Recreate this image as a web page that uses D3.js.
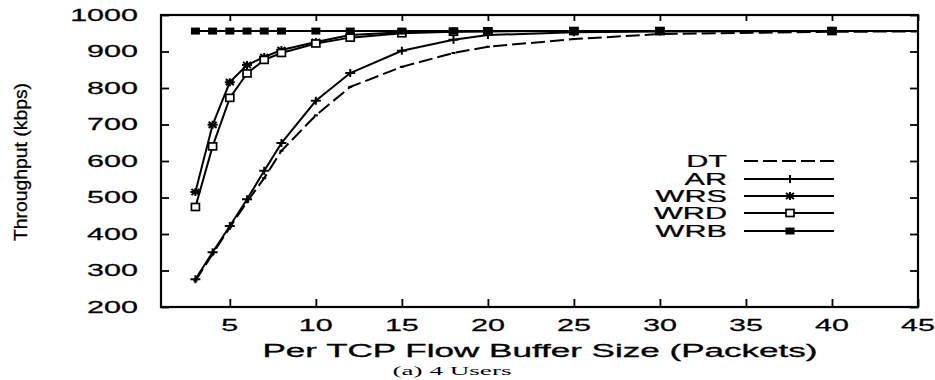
<!DOCTYPE html>
<html><head><meta charset="utf-8">
<script src="https://cdn.jsdelivr.net/npm/d3@7"></script>
<style>body{margin:0;background:#fff}svg{display:block}</style>
</head><body><svg id="c" width="935" height="380"></svg>
<script>
const bufferSizes = [3,4,5,6,7,8,10,12,15,18,20,25,30,40,50];
const seriesNames = ["DT","AR","WRS","WRD","WRB"];
const dtValues  = [272,345,418,488,553,628,725,803,858,896,913,934,948,954,956];
const arValues  = [276,350,422,495,573,649,765,841,902,932,945,953,955,956,956];
const wrsValues = [515,699,816,863,885,904,926,945,953,955,956,956,956,956,956];
const wrdValues = [474,640,773,840,877,896,922,938,950,954,955,956,956,956,956];
const wrbValues = [956,956,956,956,956,956,956,956,956,956,956,956,956,956,956];
const xTicks = [5,10,15,20,25,30,35,40,45];
const yTicks = [200,300,400,500,600,700,800,900,1000];

const series = [
  {name:"DT", values:dtValues, dash:"14,5", marker:"dot"},
  {name:"AR", values:arValues, dash:null, marker:"plus"},
  {name:"WRS", values:wrsValues, dash:null, marker:"star"},
  {name:"WRD", values:wrdValues, dash:null, marker:"open"},
  {name:"WRB", values:wrbValues, dash:null, marker:"filled"}
];

const svg = d3.select("#c");
const L=161, R=918, T=15, B=307;
const x = d3.scaleLinear().domain([1,45]).range([L,R]);
const y = d3.scaleLinear().domain([200,1000]).range([B,T]);
const SX = 1.85;
const font = "'Liberation Sans', Arial, Helvetica, sans-serif";

svg.append("clipPath").attr("id","clip").append("rect")
  .attr("x",L).attr("y",T).attr("width",R-L).attr("height",B-T);

const tl = 8;
const gB = svg.append("g").attr("transform",`translate(0,${B})`)
  .call(d3.axisBottom(x).tickValues(xTicks).tickSize(-tl).tickFormat(""));
const gT = svg.append("g").attr("transform",`translate(0,${T})`)
  .call(d3.axisTop(x).tickValues(xTicks).tickSize(-6).tickFormat(""));
const gL = svg.append("g").attr("transform",`translate(${L},0)`)
  .call(d3.axisLeft(y).tickValues(yTicks).tickSize(-tl).tickFormat(""));
const gR = svg.append("g").attr("transform",`translate(${R},0)`)
  .call(d3.axisRight(y).tickValues(yTicks).tickSize(-tl).tickFormat(""));
[gB,gT,gL,gR].forEach(g=>{
  g.select(".domain").remove();
  g.selectAll(".tick line").attr("stroke","#000").attr("stroke-width",1.8);
});
svg.append("rect").attr("x",L).attr("y",T).attr("width",R-L).attr("height",B-T)
  .attr("fill","none").attr("stroke","#000").attr("stroke-width",2.2);

function stext(g, tx, ty, str, opts){
  return g.append("text")
    .attr("transform",`translate(${tx},${ty}) scale(${opts.sx||SX},1)`)
    .attr("text-anchor",opts.anchor||"middle")
    .attr("dominant-baseline",opts.base||"central")
    .attr("font-family",opts.family||font)
    .attr("font-size",opts.size||16.5)
    .attr("fill","#000").attr("stroke","#000").attr("stroke-width",0.25)
    .text(str);
}

const labels = svg.append("g");
yTicks.forEach(v=>stext(labels, 138, y(v), v, {anchor:"end"}));
xTicks.forEach(v=>stext(labels, x(v), 325, v, {}));

labels.append("text").attr("x",540).attr("y",357)
  .attr("text-anchor","middle").attr("font-family",font).attr("font-size",17.5)
  .attr("fill","#000").attr("stroke","#000").attr("stroke-width",0.3)
  .attr("textLength",555).attr("lengthAdjust","spacingAndGlyphs")
  .text("Per TCP Flow Buffer Size (Packets)");
labels.append("text").attr("x",452).attr("y",375)
  .attr("text-anchor","middle").attr("font-family","'Liberation Serif', 'Times New Roman', serif").attr("font-size",13)
  .attr("textLength",119).attr("lengthAdjust","spacingAndGlyphs")
  .text("(a) 4 Users");
labels.append("text").attr("transform","translate(27,162) rotate(-90)")
  .attr("text-anchor","middle").attr("font-family",font).attr("font-size",19)
  .attr("fill","#000").attr("stroke","#000").attr("stroke-width",0.3)
  .attr("textLength",158).attr("lengthAdjust","spacingAndGlyphs")
  .text("Throughput (kbps)");

function drawMarker(g, type, cx, cy){
  if(type==="dot"){
    g.append("rect").attr("x",cx-2).attr("y",cy-1).attr("width",4).attr("height",2).attr("fill","#000");
  } else if(type==="plus"){
    g.append("path").attr("d",`M${cx-5},${cy}H${cx+5}M${cx},${cy-4}V${cy+4}`)
      .attr("stroke","#000").attr("stroke-width",2).attr("fill","none");
  } else if(type==="star"){
    g.append("path").attr("d",`M${cx-5},${cy}H${cx+5}M${cx},${cy-4}V${cy+4}M${cx-4},${cy-3}L${cx+4},${cy+3}M${cx-4},${cy+3}L${cx+4},${cy-3}`)
      .attr("stroke","#000").attr("stroke-width",2).attr("fill","none");
  } else if(type==="open"){
    g.append("rect").attr("x",cx-4).attr("y",cy-3.5).attr("width",8).attr("height",7)
      .attr("fill","#fff").attr("stroke","#000").attr("stroke-width",1.7);
  } else if(type==="filled"){
    g.append("rect").attr("x",cx-4.5).attr("y",cy-3.5).attr("width",9).attr("height",7).attr("fill","#000");
  }
}

const plot = svg.append("g").attr("clip-path","url(#clip)");
const line = d3.line().x(d=>x(d[0])).y(d=>y(d[1]));
series.forEach(s=>{
  const pts = bufferSizes.map((b,i)=>[b,s.values[i]]);
  plot.append("path").datum(pts).attr("d",line)
    .attr("fill","none").attr("stroke","#000").attr("stroke-width",2)
    .attr("stroke-dasharray",s.dash);
  const mg = plot.append("g");
  pts.forEach(p=>drawMarker(mg, s.marker, x(p[0]), y(p[1])));
});

const lg = svg.append("g");
const rows = [161,179,196,213,231];
series.forEach((s,i)=>{
  stext(lg, 727, rows[i], s.name, {anchor:"end", size:17, sx:1.8});
  lg.append("line").attr("x1",744).attr("x2",834).attr("y1",rows[i]).attr("y2",rows[i])
    .attr("stroke","#000").attr("stroke-width",2).attr("stroke-dasharray",s.dash);
  drawMarker(lg, s.marker, 790, rows[i]);
});
</script></body></html>
